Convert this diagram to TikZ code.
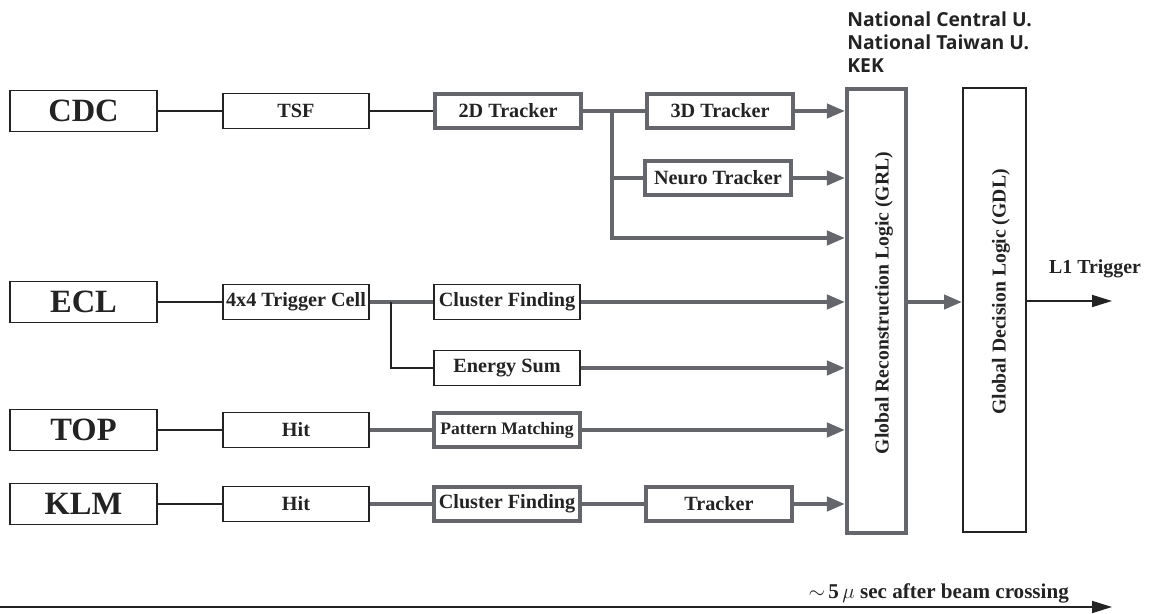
\documentclass[tikz,border=0pt]{standalone}
\usepackage{fontspec}
\setmainfont{Liberation Serif}
\newfontfamily\instfont{Open Sans}
\usepackage{tikz}
\usetikzlibrary{arrows.meta}

\definecolor{lgray}{RGB}{100,102,108}
\definecolor{ldark}{RGB}{35,35,35}

\begin{document}
\begin{tikzpicture}[x=0.02cm, y=-0.02cm,
		detbox/.style={draw=ldark, line width=1.1pt, minimum width=2.94cm, minimum height=0.82cm, inner sep=0pt, font=\fontsize{18.5}{20}\selectfont\bfseries, text=ldark},
		thinbox/.style={draw=ldark, line width=1.1pt, minimum width=2.92cm, minimum height=0.70cm, inner sep=0pt, font=\fontsize{11.5}{13}\selectfont\bfseries, text=ldark},
		thickbox/.style={draw=lgray, line width=2.3pt, minimum width=2.92cm, minimum height=0.68cm, inner sep=0pt, font=\fontsize{11.5}{13}\selectfont\bfseries, text=ldark},
		thinline/.style={draw=ldark, line width=1pt},
		thickline/.style={draw=lgray, line width=2.3pt},
		feed/.style={thickline, -{Triangle[length=0.36cm, width=0.28cm]}},
		outarrow/.style={draw=ldark, line width=1pt, -{Triangle[length=0.4cm, width=0.24cm]}}
	]
			\useasboundingbox (0,0) rectangle (1150,614);

			\node[detbox] (cdc) at (83.5,111) {CDC};
			\node[thinbox] (tsf) at (296,111) {TSF};
			\node[thickbox] (tr2d) at (508,111) {2D Tracker};
			\node[thickbox] (tr3d) at (720,111) {3D Tracker};
			\node[thickbox] (neuro) at (718,178) {Neuro Tracker};

			\node[detbox] (ecl) at (83.5,302) {ECL};
			\node[thinbox] (cell) at (296,302) {4x4 Trigger Cell};
			\node[thinbox] (eclclus) at (507,302) {Cluster Finding};
			\node[thinbox] (esum) at (507,368) {Energy Sum};

			\node[detbox] (top) at (83.5,430) {TOP};
			\node[thinbox] (tophit) at (296,430) {Hit};
			\node[thickbox, font=\fontsize{10}{12}\selectfont\bfseries] (pm) at (507,430) {Pattern Matching};

			\node[detbox] (klm) at (83.5,504) {KLM};
			\node[thinbox] (klmhit) at (296,504) {Hit};
			\node[thickbox] (klmclus) at (507,504) {Cluster Finding};
			\node[thickbox] (klmtrk) at (719,504) {Tracker};

			\node[thickbox, minimum width=1.18cm, minimum height=8.88cm] (grl) at (876.5,311) {};
			\node[rotate=90, font=\fontsize{11.2}{13}\selectfont\bfseries, text=ldark] (grltext) at (884,303) {Global Reconstruction Logic (GRL)};
			\node[thinbox, minimum width=1.26cm, minimum height=8.88cm] (gdl) at (994.5,310) {};
			\node[rotate=90, font=\fontsize{11.2}{13}\selectfont\bfseries, text=ldark] (gdltext) at (1001,292) {Global Decision Logic (GDL)};

			\node[anchor=north west, align=left, inner sep=0pt, text=ldark, font=\instfont\bfseries\fontsize{11}{13.3}\selectfont] (inst) at (847,11) {National Central U.\\National Taiwan U.\\KEK};

			\draw[thinline] (cdc) -- (tsf);
			\draw[thinline] (tsf) -- (tr2d);
			\coordinate (cdcfork) at (612,111);
			\coordinate (cdcdirect) at (612,238);
			\draw[thickline] (tr2d) -- (tr3d);
			\draw[thickline] (cdcfork) |- (neuro.west);
			\draw[feed] (cdcfork) -- (cdcdirect) -- (cdcdirect -| grl.west);
			\draw[feed] (tr3d) -- (tr3d -| grl.west);
			\draw[feed] (neuro) -- (neuro -| grl.west);

			\draw[thinline] (ecl) -- (cell);
			\draw[thickline] (cell) -- (eclclus);
			\coordinate (eclfork) at (391,302);
			\draw[thinline] (eclfork) |- (esum.west);
			\draw[feed] (eclclus) -- (eclclus -| grl.west);
			\draw[feed] (esum) -- (esum -| grl.west);

			\draw[thinline] (top) -- (tophit);
			\draw[thickline] (tophit) -- (pm);
			\draw[feed] (pm) -- (pm -| grl.west);

			\draw[thinline] (klm) -- (klmhit);
			\draw[thickline] (klmhit) -- (klmclus);
			\draw[thickline] (klmclus) -- (klmtrk);
			\draw[feed] (klmtrk) -- (klmtrk -| grl.west);

			\coordinate (grlout) at (grl.east |- eclclus);
			\draw[feed] (grlout) -- (grlout -| gdl.west);
			\coordinate (l1end) at (1112,301);
			\draw[outarrow] (l1end -| gdl.east) -- (l1end);
			\node[anchor=base, font=\fontsize{11.3}{13}\selectfont\bfseries, text=ldark] (l1) at (1095,274) {L1 Trigger};

			\coordinate (tstart) at (0,607);
			\coordinate (tend) at (1112,607);
			\draw[outarrow] (tstart) -- (tend);
			\node[anchor=base east, font=\fontsize{12}{14}\selectfont\bfseries, text=ldark] (tlabel) at (1075,599) {$\sim$\,5\,$\mu$ sec after beam crossing};
		\end{tikzpicture}
\end{document}
